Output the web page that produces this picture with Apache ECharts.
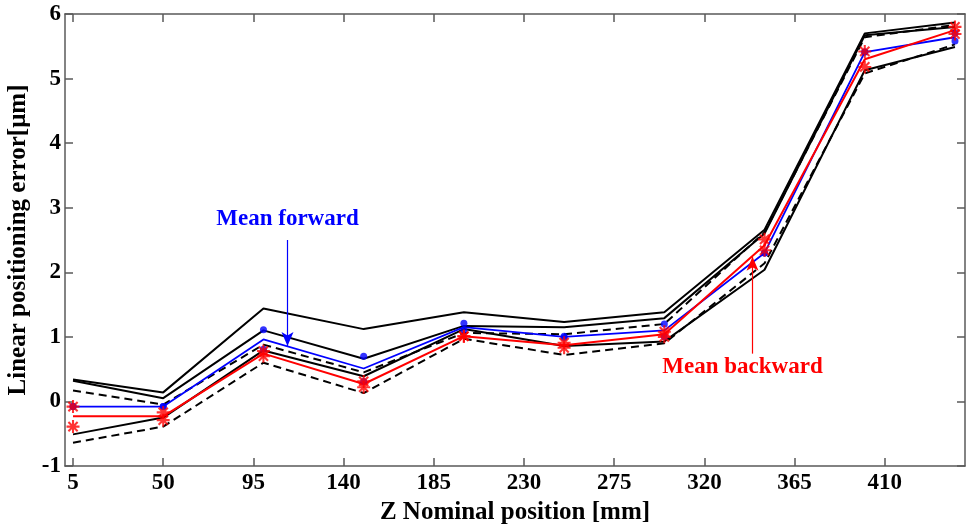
<!DOCTYPE html>
<html>
<head>
<meta charset="utf-8">
<title>Linear positioning error along Z</title>
<script src="https://cdn.jsdelivr.net/npm/echarts@6/dist/echarts.min.js"></script>
<style>
  html, body { margin: 0; padding: 0; background: #fff; }
  #chart { width: 968px; height: 526px; }
</style>
</head>
<body>
<div id="chart"></div>
<script>
// Nominal Z positions of the measurement targets [mm]
const zPositions = [5, 50, 100, 150, 200, 250, 300, 350, 400, 445];

// Overall upper bound of the error band [µm]
const overallUpper = [0.34, 0.14, 1.44, 1.12, 1.38, 1.23, 1.38, 2.66, 5.70, 5.87];

// Forward runs: mean and its band (solid black)
const forwardMean  = [-0.08, -0.08, 0.96, 0.51, 1.15, 1.00, 1.10, 2.30, 5.41, 5.64];
const forwardUpper = [0.32, 0.05, 1.10, 0.66, 1.17, 1.15, 1.29, 2.60, 5.67, 5.80];
const forwardLower = [-0.51, -0.25, 0.79, 0.39, 1.12, 0.86, 0.93, 2.04, 5.13, 5.49];
const forwardRun1  = [-0.08, -0.08, 1.11, 0.70, 1.21, 1.01, 1.20, 2.30, 5.41, 5.58];
const forwardRun2  = [-0.08, -0.08, 0.81, 0.31, 1.10, 0.99, 1.00, 2.30, 5.41, 5.70];

// Backward runs: mean and its band (dashed black)
const backwardMean  = [-0.23, -0.23, 0.74, 0.27, 1.01, 0.87, 1.04, 2.42, 5.30, 5.75];
const backwardUpper = [0.17, -0.05, 0.88, 0.45, 1.06, 1.04, 1.20, 2.62, 5.64, 5.83];
const backwardLower = [-0.64, -0.39, 0.60, 0.13, 0.97, 0.72, 0.90, 2.14, 5.08, 5.53];
const backwardRun1  = [-0.08, -0.17, 0.78, 0.31, 1.01, 0.91, 1.08, 2.51, 5.42, 5.80];
const backwardRun2  = [-0.39, -0.29, 0.70, 0.22, 1.01, 0.83, 1.00, 2.34, 5.18, 5.69];

// Axis tick values
const xTickValues = [5, 50, 95, 140, 185, 230, 275, 320, 365, 410];

const pts = arr => zPositions.map((z, i) => [z, arr[i]]);

const FONT = "'Liberation Serif', 'Times New Roman', serif";
const FRAME = '#5a5a5a';

// Asterisk marker built from four thin bars
const ASTERISK = 'path://M-1.6 -10 L1.6 -10 L1.6 10 L-1.6 10 Z ' +
  'M-10 -1.6 L10 -1.6 L10 1.6 L-10 1.6 Z ' +
  'M-5.94 -8.2 L8.2 5.94 L5.94 8.2 L-8.2 -5.94 Z ' +
  'M8.2 -5.94 L-5.94 8.2 L-8.2 5.94 L5.94 -8.2 Z';

function bandLine(name, arr, dashed) {
  return {
    name, type: 'line', data: pts(arr), symbol: 'none', silent: true,
    lineStyle: { color: '#000', width: 2, type: dashed ? [8, 5] : 'solid' },
    z: 2
  };
}

function runMarkers(name, arr, color, symbol, size) {
  return {
    name, type: 'scatter', data: pts(arr), symbol, symbolSize: size,
    itemStyle: { color }, silent: true, z: 5
  };
}

const chart = echarts.init(document.getElementById('chart'), null, { renderer: 'canvas' });

chart.setOption({
  animation: false,
  backgroundColor: '#fff',
  grid: { left: 65, right: 3, top: 14, bottom: 60, containLabel: false, outerBoundsMode: 'none' },
  xAxis: [
    {
      type: 'value', min: 1, max: 450, position: 'bottom',
      name: 'Z Nominal position [mm]', nameLocation: 'middle', nameGap: 26,
      nameTextStyle: { fontFamily: FONT, fontWeight: 'bold', fontSize: 25, color: '#000' },
      axisLine: { show: true, onZero: false, lineStyle: { color: FRAME, width: 1.5 } },
      axisTick: { show: true, inside: true, length: 8, customValues: xTickValues, lineStyle: { color: FRAME, width: 1.5 } },
      axisLabel: { show: true, customValues: xTickValues, margin: 6, fontFamily: FONT, fontWeight: 'bold', fontSize: 23, color: '#000' },
      splitLine: { show: false }
    },
    {
      type: 'value', min: 1, max: 450, position: 'top',
      axisLine: { show: true, onZero: false, lineStyle: { color: FRAME, width: 1.5 } },
      axisTick: { show: true, inside: true, length: 8, customValues: xTickValues, lineStyle: { color: FRAME, width: 1.5 } },
      axisLabel: { show: false },
      splitLine: { show: false }
    }
  ],
  yAxis: [
    {
      type: 'value', min: -1, max: 6, interval: 1, position: 'left',
      name: 'Linear positioning error[μm]', nameLocation: 'middle', nameGap: 28, nameRotate: 90,
      nameTextStyle: { fontFamily: FONT, fontWeight: 'bold', fontSize: 25, color: '#000' },
      axisLine: { show: true, onZero: false, lineStyle: { color: FRAME, width: 1.5 } },
      axisTick: { show: true, inside: true, length: 8, lineStyle: { color: FRAME, width: 1.5 } },
      axisLabel: { show: true, margin: 4, fontFamily: FONT, fontWeight: 'bold', fontSize: 23, color: '#000',
                   showMinLabel: true, showMaxLabel: true },
      splitLine: { show: false }
    },
    {
      type: 'value', min: -1, max: 6, interval: 1, position: 'right',
      axisLine: { show: true, onZero: false, lineStyle: { color: FRAME, width: 1.5 } },
      axisTick: { show: true, inside: true, length: 8, lineStyle: { color: FRAME, width: 1.5 } },
      axisLabel: { show: false },
      splitLine: { show: false }
    }
  ],
  series: [
    bandLine('Upper bound', overallUpper, false),
    bandLine('Forward +', forwardUpper, false),
    bandLine('Forward -', forwardLower, false),
    bandLine('Backward +', backwardUpper, true),
    bandLine('Backward -', backwardLower, true),
    {
      name: 'Mean forward', type: 'line', data: pts(forwardMean), symbol: 'none', silent: true,
      lineStyle: { color: '#0000ff', width: 1.8 }, z: 3
    },
    {
      name: 'Mean backward', type: 'line', data: pts(backwardMean), symbol: 'none', silent: true,
      lineStyle: { color: '#ff0000', width: 2 }, z: 3
    },
    runMarkers('Forward run 1', forwardRun1, '#0000ff', 'circle', 7),
    runMarkers('Forward run 2', forwardRun2, '#0000ff', 'circle', 7),
    runMarkers('Backward run 1', backwardRun1, '#ff0000', ASTERISK, 13),
    runMarkers('Backward run 2', backwardRun2, '#ff0000', ASTERISK, 13),
    // Annotations: labels with arrows pointing at the mean curves
    {
      name: 'notes', type: 'line', data: [], silent: true, z: 6,
      markLine: {
        silent: true, animation: false,
        label: { show: false },
        emphasis: { disabled: true },
        data: [
          [
            { coord: [112, 2.50], symbol: 'none', lineStyle: { color: '#0000ff', width: 1.2, type: 'solid' } },
            { coord: [112, 0.86], symbol: 'arrow', symbolSize: [9, 14] }
          ],
          [
            { coord: [344, 0.74], symbol: 'none', lineStyle: { color: '#ff0000', width: 1.2, type: 'solid' } },
            { coord: [344, 2.24], symbol: 'arrow', symbolSize: [9, 14] }
          ]
        ]
      },
      markPoint: {
        silent: true, animation: false,
        symbol: 'circle', symbolSize: 0,
        data: [
          {
            coord: [112, 2.82],
            label: { show: true, formatter: 'Mean forward', position: 'inside',
                     fontFamily: FONT, fontWeight: 'bold', fontSize: 23, color: '#0000ff' }
          },
          {
            coord: [339, 0.53],
            label: { show: true, formatter: 'Mean backward', position: 'inside',
                     fontFamily: FONT, fontWeight: 'bold', fontSize: 23, color: '#ff0000' }
          }
        ]
      }
    }
  ]
});
</script>
</body>
</html>
